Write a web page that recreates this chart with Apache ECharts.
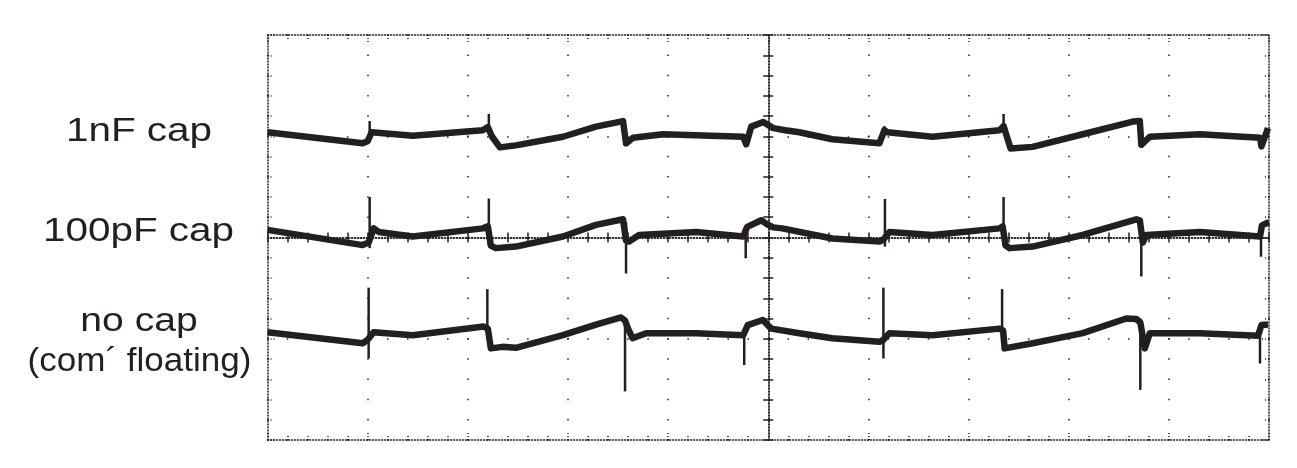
<!DOCTYPE html>
<html>
<head>
<meta charset="utf-8">
<script src="https://cdn.jsdelivr.net/npm/echarts@6/dist/echarts.min.js"></script>
<style>
  html, body { margin: 0; background: #fff; }
  #chart { width: 1297px; height: 468px; }
</style>
</head>
<body>
<div id="chart"></div>
<script>
// time in 1/100 division, level in 1/100 division (0 = centre line)
const trace1nF = [
  [0, 104], [95, 93], [100, 95], [104, 104], [145, 100.5], [215, 106], [220, 109], [224, 100],
  [232, 89], [248, 91], [295, 99.5], [328, 109.5], [355, 115], [358, 93], [365, 98.5], [395, 102],
  [475, 99.5], [478, 92], [483, 109.5], [495, 114], [505, 108], [517, 106], [531, 104], [564, 97],
  [611, 93], [616, 106], [619, 104], [664, 99.5], [731, 106], [735, 110], [742, 88], [764, 89.5],
  [814, 102], [864, 114.5], [871, 115], [872.5, 91.5], [881, 99.5], [931, 102], [991, 98.5],
  [992.5, 90], [999, 108]
];
const spikes1nF = [
  [102, 100, 115], [221, 105, 122], [616, 100, 110], [735, 105, 122]
];

const trace100pF = [
  [0, 7.5], [95, -7.5], [101, -5], [106, 9], [111, 5.5], [145, 1], [215, 9], [220, 11], [223, -8],
  [228, -10.5], [248, -9], [295, 1], [328, 12.5], [355, 18], [358, -3], [361, -4], [371, 2.5],
  [428, 5.5], [475, 1], [479, 10.5], [493, 17], [499, 13], [505, 10], [514, 9], [564, -1],
  [611, -4], [615, -2], [621, 5.5], [664, 2.5], [731, 9], [734, 11], [737, -8], [741, -10.5],
  [764, -9], [814, 2.5], [867.5, 18], [871, 17], [874, -5], [877.5, 2.5], [931, 5.5], [991, 1],
  [993, 12], [997.5, 14], [1000, 15]
];
const spikes100pF = [
  [102, -10.5, 40], [221, -7.5, 38.5], [358, -35.5, 15], [477.5, -20.5, 5],
  [616.5, -9, 38], [735, -8, 40], [872.5, -38.5, 15], [992, -19, 5]
];

const traceNoCap = [
  [0, -93.5], [95, -104.5], [100, -101], [106, -93.5], [145, -96.5], [216, -88], [220, -90],
  [223, -109.5], [234.5, -108], [248, -109], [295, -96.5], [328, -86], [353, -79], [357, -82],
  [360, -90], [364.5, -99.5], [378, -94.5], [428, -94.5], [475, -96.5], [479.5, -86.5],
  [494.5, -81.5], [503, -90], [531, -94.5], [564, -99.5], [611, -103], [615, -101], [621, -94.5],
  [664, -96.5], [731, -90], [734.5, -92], [736, -109.5], [764, -104.5], [814, -94.5],
  [857.5, -80], [867.5, -80.5], [871.5, -84], [876, -109.5], [881, -94.5], [931, -94.5],
  [989, -97], [992.5, -86.5], [999, -86]
];
const spikesNoCap = [
  [101, -119.5, -49.5], [219.5, -95, -51], [357, -152, -80], [476, -126, -96],
  [615, -119.5, -49.5], [733.5, -95, -51], [871.5, -150.5, -80], [991, -124.5, -97]
];

const labels = ["1nF cap", "100pF cap", "no cap", "(com´ floating)"];

const ink = "#231f20";
const chart = echarts.init(document.getElementById("chart"));

const dotted = { color: ink, width: 1.5, type: [1, 2] };

// graticule border axes
function borderX(position, split) {
  return {
    type: "value", min: 0, max: 1000, interval: 100, position,
    axisLine: { show: true, onZero: false, lineStyle: dotted },
    axisTick: { show: true, inside: true, length: 7, lineStyle: dotted },
    minorTick: { show: true, splitNumber: 5, length: 4, lineStyle: dotted },
    axisLabel: { show: false },
    splitLine: { show: split, lineStyle: { color: ink, width: 1.5, type: [1.5, 18.75], dashOffset: 0.75 } }
  };
}
function borderY(position, split) {
  return {
    type: "value", min: -200, max: 200, interval: 100, position,
    axisLine: { show: true, onZero: false, lineStyle: dotted },
    axisTick: { show: true, inside: true, length: 7, lineStyle: dotted },
    minorTick: { show: true, splitNumber: 5, length: 4, lineStyle: dotted },
    axisLabel: { show: false },
    splitLine: { show: split, lineStyle: { color: ink, width: 1.5, type: [1.5, 18.53], dashOffset: 0.75 } }
  };
}
// centre lines with small ticks on both sides
function centreX(position) {
  return {
    type: "value", min: 0, max: 1000, interval: 20, position, offset: -202.5,
    axisLine: { show: true, onZero: false, lineStyle: dotted },
    axisTick: { show: true, inside: false, length: 5, lineStyle: { color: ink, width: 1.5 } },
    axisLabel: { show: false }, splitLine: { show: false }
  };
}
function centreY(position) {
  return {
    type: "value", min: -200, max: 200, interval: 20, position, offset: -500.75,
    axisLine: { show: true, onZero: false, lineStyle: dotted },
    axisTick: { show: true, inside: false, length: 5, lineStyle: { color: ink, width: 1.5 } },
    axisLabel: { show: false }, splitLine: { show: false }
  };
}

function traceSeries(name, data) {
  return {
    name, type: "line", data, showSymbol: false, silent: true, z: 5,
    lineStyle: { color: ink, width: 6.5, join: "round" }
  };
}
function spikeSeries(name, data) {
  return {
    name, type: "custom", data, silent: true, z: 6,
    encode: { x: 0, y: [1, 2] },
    renderItem(params, api) {
      const a = api.coord([api.value(0), api.value(1)]);
      const b = api.coord([api.value(0), api.value(2)]);
      return {
        type: "line",
        shape: { x1: a[0], y1: a[1], x2: b[0], y2: b[1] },
        style: { stroke: ink, lineWidth: 2.5 }
      };
    }
  };
}

const labelText = (text, x, y, sx) => ({
  type: "text", x, y, scaleX: sx,
  style: { text, fill: ink, font: "34px 'Liberation Sans', Arial, sans-serif", align: "center", verticalAlign: "middle" }
});

chart.setOption({
  animation: false,
  backgroundColor: "#fff",
  grid: { left: 267.5, top: 35, width: 1001.5, height: 405 },
  xAxis: [borderX("bottom", true), borderX("top", false), centreX("top"), centreX("bottom")],
  yAxis: [borderY("left", true), borderY("right", false), centreY("left"), centreY("right")],
  graphic: [
    labelText(labels[0], 139, 131.5, 1.19),
    labelText(labels[1], 138.5, 231.5, 1.19),
    labelText(labels[2], 139, 321.5, 1.15),
    labelText(labels[3], 139.5, 362, 1.03)
  ],
  series: [
    traceSeries("1nF cap", trace1nF),
    spikeSeries("1nF cap spikes", spikes1nF),
    traceSeries("100pF cap", trace100pF),
    spikeSeries("100pF cap spikes", spikes100pF),
    traceSeries("no cap", traceNoCap),
    spikeSeries("no cap spikes", spikesNoCap)
  ]
});
</script>
</body>
</html>
